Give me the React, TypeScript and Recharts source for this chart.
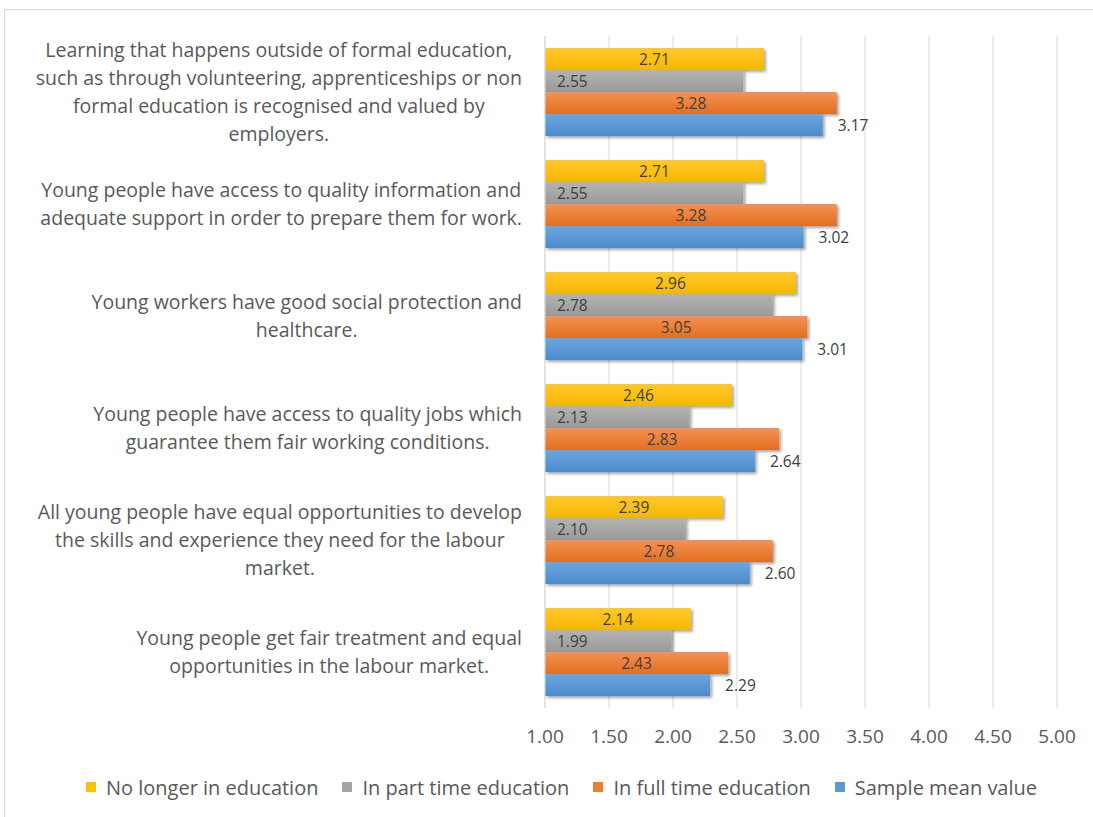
import React from 'react';
import { BarChart, Bar, XAxis, YAxis, CartesianGrid, Legend, LabelList } from 'recharts';

const labelLines: string[][] = [
  ['Learning that happens outside of formal education,', 'such as through volunteering, apprenticeships or non', 'formal education is recognised and valued by', 'employers.'],
  ['Young people have access to quality information and', 'adequate support in order to prepare them for work.'],
  ['Young workers have good social protection and', 'healthcare.'],
  ['Young people have access to quality jobs which', 'guarantee them fair working conditions.'],
  ['All young people have equal opportunities to develop', 'the skills and experience they need for the labour', 'market.'],
  ['Young people get fair treatment and equal', 'opportunities in the labour market.'],
];
const categories = labelLines.map((l) => l.join(' '));

const noLonger = [2.71, 2.71, 2.96, 2.46, 2.39, 2.14];
const partTime = [2.55, 2.55, 2.78, 2.13, 2.1, 1.99];
const fullTime = [3.28, 3.28, 3.05, 2.83, 2.78, 2.43];
const sampleMean = [3.17, 3.02, 3.01, 2.64, 2.6, 2.29];

const xTicks = [1, 1.5, 2, 2.5, 3, 3.5, 4, 4.5, 5];

const seriesNames = ['No longer in education', 'In part time education', 'In full time education', 'Sample mean value'];
const seriesColors = ['#ffc000', '#a5a5a5', '#ed7d31', '#5b9bd5'];

const data = categories.map((name, i) => ({
  name,
  noLonger: noLonger[i],
  partTime: partTime[i],
  fullTime: fullTime[i],
  sampleMean: sampleMean[i],
}));

const FONT = '"Open Sans", sans-serif';
const TEXT = '#595959';

const CategoryTick = (props: any) => {
  const { x, y, payload } = props;
  const lines = labelLines[payload.index] || [];
  return (
    <foreignObject x={x - 545} y={y - 70} width={530} height={140}>
      <div style={{ height: 140, display: 'flex', justifyContent: 'flex-end', alignItems: 'center' }}>
        <div style={{ textAlign: 'center', fontFamily: FONT, fontSize: 19.5, lineHeight: '28px', color: TEXT, whiteSpace: 'nowrap' }}>
          {lines.map((l, i) => <div key={i}>{l}</div>)}
        </div>
      </div>
    </foreignObject>
  );
};

const LegendContent = () => (
  <div style={{ display: 'flex', justifyContent: 'center', paddingLeft: 66, fontFamily: FONT, fontSize: 20, color: TEXT, height: 30, alignItems: 'center' }}>
    {seriesNames.map((n, i) => (
      <div key={n} style={{ display: 'flex', alignItems: 'center', marginRight: i < seriesNames.length - 1 ? 24 : 0 }}>
        <span style={{ width: 10, height: 10, background: seriesColors[i], display: 'inline-block', marginRight: 10 }} />
        <span>{n}</span>
      </div>
    ))}
  </div>
);

const labelStyle = { fill: '#404040', fontSize: 15.5, fontFamily: FONT };
const fmt = (v: any) => Number(v).toFixed(2);

export default function App() {
  return (
    <div style={{ position: 'absolute', left: 0, top: 0, width: 1093, height: 817, overflow: 'hidden', background: '#fff' }}>
      <div style={{ position: 'absolute', left: 4, top: 9, width: 1200, height: 900, border: '1px solid #d9d9d9' }} />
      <div style={{ position: 'absolute', left: 0, top: 0 }}>
        <BarChart
          width={1093}
          height={817}
          data={data}
          layout="vertical"
          margin={{ top: 36, right: 36, left: 0, bottom: 39 }}
          barCategoryGap={12}
          barGap={0}
        >
          <defs>
            <filter id="shadow" x="-5%" y="-20%" width="115%" height="160%">
              <feDropShadow dx="2" dy="2" stdDeviation="1.5" floodColor="#000" floodOpacity="0.35" />
            </filter>
            <linearGradient id="gYellow" x1="0" y1="0" x2="0" y2="1">
              <stop offset="0%" stopColor="#ffc82a" />
              <stop offset="100%" stopColor="#f5b800" />
            </linearGradient>
            <linearGradient id="gGray" x1="0" y1="0" x2="0" y2="1">
              <stop offset="0%" stopColor="#b3b3b3" />
              <stop offset="100%" stopColor="#999999" />
            </linearGradient>
            <linearGradient id="gOrange" x1="0" y1="0" x2="0" y2="1">
              <stop offset="0%" stopColor="#f39257" />
              <stop offset="100%" stopColor="#e36e1f" />
            </linearGradient>
            <linearGradient id="gBlue" x1="0" y1="0" x2="0" y2="1">
              <stop offset="0%" stopColor="#6aa7de" />
              <stop offset="100%" stopColor="#4a8acb" />
            </linearGradient>
          </defs>
          <CartesianGrid horizontal={false} stroke="#d9d9d9" />
          <XAxis
            type="number"
            domain={[1, 5]}
            ticks={xTicks}
            tickFormatter={fmt}
            axisLine={false}
            tickLine={false}
            tickMargin={16}
            height={40}
            tick={{ fill: TEXT, fontSize: 19, fontFamily: FONT }}
          />
          <YAxis
            type="category"
            dataKey="name"
            width={545}
            tick={<CategoryTick />}
            tickLine={false}
            axisLine={{ stroke: '#d9d9d9' }}
            interval={0}
          />
          <Legend verticalAlign="bottom" content={<LegendContent />} wrapperStyle={{ bottom: 15 }} />
          <Bar dataKey="noLonger" name={seriesNames[0]} fill="url(#gYellow)" filter="url(#shadow)" isAnimationActive={false}>
            <LabelList dataKey="noLonger" position="center" formatter={fmt} style={labelStyle} />
          </Bar>
          <Bar dataKey="partTime" name={seriesNames[1]} fill="url(#gGray)" filter="url(#shadow)" isAnimationActive={false}>
            <LabelList dataKey="partTime" position="insideLeft" offset={12} formatter={fmt} style={labelStyle} />
          </Bar>
          <Bar dataKey="fullTime" name={seriesNames[2]} fill="url(#gOrange)" filter="url(#shadow)" isAnimationActive={false}>
            <LabelList dataKey="fullTime" position="center" formatter={fmt} style={labelStyle} />
          </Bar>
          <Bar dataKey="sampleMean" name={seriesNames[3]} fill="url(#gBlue)" filter="url(#shadow)" isAnimationActive={false}>
            <LabelList dataKey="sampleMean" position="right" offset={15} formatter={fmt} style={labelStyle} />
          </Bar>
        </BarChart>
      </div>
    </div>
  );
}
